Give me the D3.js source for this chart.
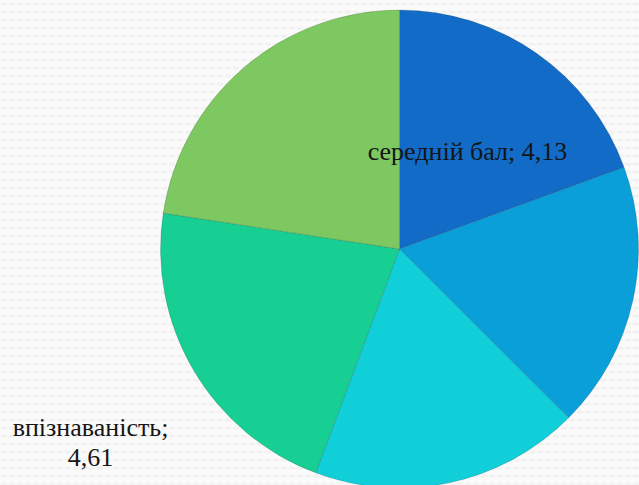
<!DOCTYPE html>
<html>
<head>
<meta charset="utf-8">
<script src="https://cdn.jsdelivr.net/npm/d3@7"></script>
<style>
    body { margin: 0; background: #fbfbfb; }
    #chart { position: relative; width: 639px; height: 485px; overflow: hidden; }
    #chart svg { position: absolute; left: 0; top: 0; }
    .lbl {
        position: absolute;
        font-size: 26px;
        line-height: 30px;
        color: #151515;
        text-align: center;
        white-space: pre;
        transform: translateX(-50%);
    }
</style>
</head>
<body>
<div id="chart"></div>
<script>
// Data
let categories = ["середній бал", "показник 2", "показник 3", "впізнаваність", "показник 5"];
let values = [4.13, 3.83, 3.87, 4.61, 4.80];
let labelText = ["середній бал; 4,13", "", "", "впізнаваність;\n4,61", ""];
let colors = ["#126bc6", "#0a9fd8", "#10cfd9", "#17cf93", "#7dc860"];

class visPie {

    constructor(parentElement) {
        this.parentElement = parentElement;
        this.initVis();
    }

    initVis() {
        let vis = this;

        vis.width = 639;
        vis.height = 485;
        vis.cx = 399.5;
        vis.cy = 249;

        vis.svgRoot = d3.select("#" + vis.parentElement).append("svg")
            .attr("width", vis.width)
            .attr("height", vis.height);

        // faint background texture
        let pat = vis.svgRoot.append("defs").append("pattern")
            .attr("id", "bg")
            .attr("width", 8)
            .attr("height", 8)
            .attr("patternUnits", "userSpaceOnUse");
        pat.append("rect").attr("width", 8).attr("height", 8).attr("fill", "#fbfbfb");
        pat.append("ellipse").attr("cx", 4).attr("cy", 4).attr("rx", 3.5).attr("ry", 1.8).attr("fill", "#f2f2f2");

        vis.svgRoot.append("rect")
            .attr("width", vis.width)
            .attr("height", vis.height)
            .attr("fill", "url(#bg)");

        vis.radius = 239;
        vis.svg = vis.svgRoot.append("g")
            .attr("transform", `translate (${vis.cx}, ${vis.cy})`);

        vis.drawPie();
    }

    drawPie() {
        let vis = this;

        vis.pie = d3.pie()
            .sort(null)
            .value(d => d.value);

        vis.data = vis.pie(categories.map((c, i) => ({name: c, value: values[i], label: labelText[i]})));

        vis.arc = d3.arc()
            .innerRadius(0)
            .outerRadius(vis.radius);

        vis.svg.selectAll(".slice")
            .data(vis.data)
            .enter()
            .append("path")
            .attr("class", "slice")
            .attr("d", vis.arc)
            .attr("fill", (d, i) => colors[i])
            .attr("stroke", "rgba(0,0,0,0.18)")
            .attr("stroke-width", 0.8);

        // label offsets from the pie centre (top of the text box)
        let labelPos = [
            {x: 68, y: -112},
            null,
            null,
            {x: -309, y: 164},
            null
        ];

        vis.data.forEach(function (d, i) {
            if (!labelPos[i]) return;
            d3.select("#" + vis.parentElement).append("div")
                .attr("class", "lbl")
                .attr("style", "font-family:'Liberation Serif'")
                .style("left", (vis.cx + labelPos[i].x) + "px")
                .style("top", (vis.cy + labelPos[i].y) + "px")
                .text(d.data.label);
        });
    }
}

new visPie("chart");
</script>
</body>
</html>
